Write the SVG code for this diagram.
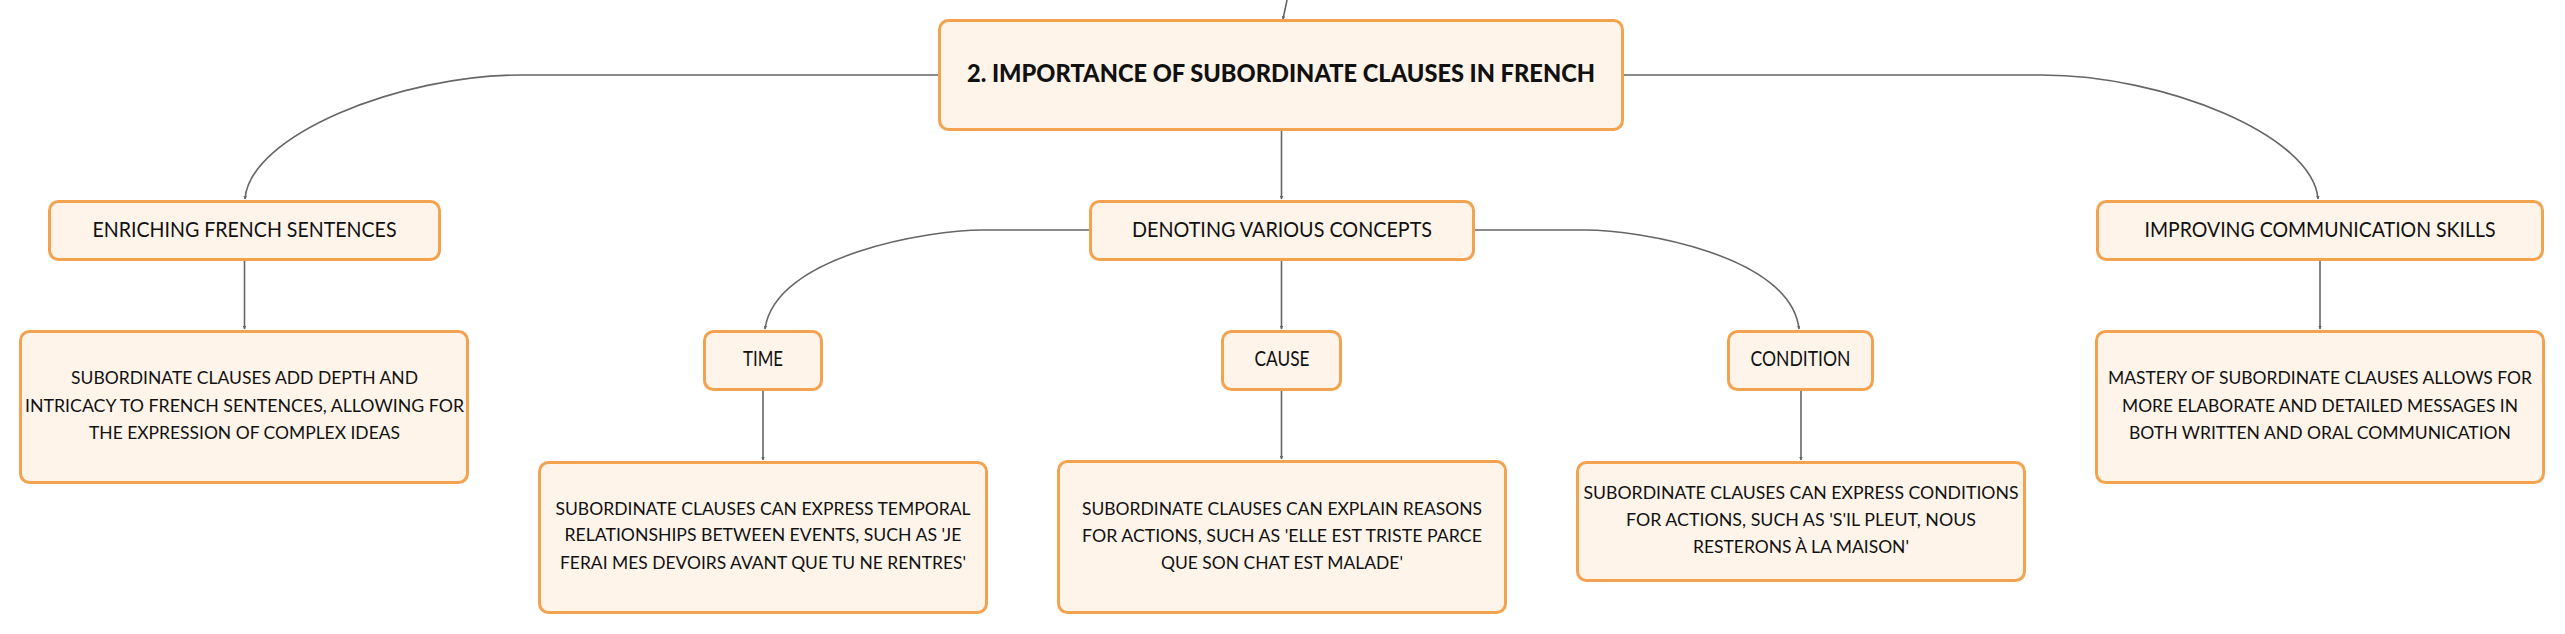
<svg xmlns="http://www.w3.org/2000/svg" width="2565" height="634" viewBox="0 0 2565 634">
<style>
.box{fill:#FEF4EA;stroke:#F3A24F;stroke-width:3}
.t{font-family:Lato,"Noto Sans","Liberation Sans",sans-serif;fill:#111;text-anchor:middle}
.root{font-size:25px;font-weight:900}
.lbl{font-size:20.5px}
.det{font-size:16.8px}
.c{fill:none;stroke:#666;stroke-width:1.6}
</style>
<defs>
<marker id="ah" viewBox="0 0 6 6" refX="5" refY="3" markerWidth="3.5" markerHeight="3.5" markerUnits="userSpaceOnUse" orient="auto">
<path d="M0,0 L6,3 L0,6 z" fill="#666"/>
</marker>
</defs>
<rect width="2565" height="634" fill="#fff"/>
<g id="connectors">
<path class="c" d="M1287,0 L1283,19" marker-end="url(#ah)"/>
<path class="c" d="M938,75 L521,75 C400,75 250,135 245,199" marker-end="url(#ah)"/>
<path class="c" d="M1624,75 L2042,75 C2163,75 2313,135 2318,199" marker-end="url(#ah)"/>
<path class="c" d="M1281.5,131 L1281.5,199" marker-end="url(#ah)"/>
<path class="c" d="M1089,230 L983,230 C930,230 775,255 765,329" marker-end="url(#ah)"/>
<path class="c" d="M1281.5,261 L1281.5,329" marker-end="url(#ah)"/>
<path class="c" d="M1475,230 L1585,230 C1638,230 1791,255 1799,329" marker-end="url(#ah)"/>
<path class="c" d="M244.5,261 L244.5,329" marker-end="url(#ah)"/>
<path class="c" d="M763,391 L763,460" marker-end="url(#ah)"/>
<path class="c" d="M1281.5,391 L1281.5,459" marker-end="url(#ah)"/>
<path class="c" d="M1801,391 L1801,460" marker-end="url(#ah)"/>
<path class="c" d="M2320,261 L2320,329" marker-end="url(#ah)"/>
</g>
<g id="root">
<rect class="box" x="939.5" y="20.5" width="683" height="109" rx="9"/>
<text class="t root" x="1281" y="82" textLength="628" lengthAdjust="spacingAndGlyphs">2. IMPORTANCE OF SUBORDINATE CLAUSES IN FRENCH</text>
</g>
<g id="enriching">
<rect class="box" x="49.5" y="201.5" width="390" height="58" rx="9"/>
<text class="t lbl" x="244.5" y="237" textLength="304" lengthAdjust="spacingAndGlyphs">ENRICHING FRENCH SENTENCES</text>
</g>
<g id="denoting">
<rect class="box" x="1090.5" y="201.5" width="383" height="58" rx="9"/>
<text class="t lbl" x="1282" y="237" textLength="300" lengthAdjust="spacingAndGlyphs">DENOTING VARIOUS CONCEPTS</text>
</g>
<g id="improving">
<rect class="box" x="2097.5" y="201.5" width="445" height="58" rx="9"/>
<text class="t lbl" x="2320" y="237" textLength="351" lengthAdjust="spacingAndGlyphs">IMPROVING COMMUNICATION SKILLS</text>
</g>
<g id="time">
<rect class="box" x="704.5" y="331.5" width="117" height="58" rx="9"/>
<text class="t lbl" x="763" y="366" textLength="40" lengthAdjust="spacingAndGlyphs">TIME</text>
</g>
<g id="cause">
<rect class="box" x="1222.5" y="331.5" width="118" height="58" rx="9"/>
<text class="t lbl" x="1282" y="366" textLength="55" lengthAdjust="spacingAndGlyphs">CAUSE</text>
</g>
<g id="condition">
<rect class="box" x="1728.5" y="331.5" width="144" height="58" rx="9"/>
<text class="t lbl" x="1800.5" y="366" textLength="100" lengthAdjust="spacingAndGlyphs">CONDITION</text>
</g>
<g id="enriching-detail">
<rect class="box" x="20.5" y="331.5" width="447" height="151" rx="9"/>
<text class="t det" x="244.5" y="384" textLength="347" lengthAdjust="spacingAndGlyphs">SUBORDINATE CLAUSES ADD DEPTH AND</text>
<text class="t det" x="244.5" y="411.5" textLength="439" lengthAdjust="spacingAndGlyphs">INTRICACY TO FRENCH SENTENCES, ALLOWING FOR</text>
<text class="t det" x="244.5" y="438.5" textLength="311" lengthAdjust="spacingAndGlyphs">THE EXPRESSION OF COMPLEX IDEAS</text>
</g>
<g id="time-detail">
<rect class="box" x="539.5" y="462.5" width="447" height="150" rx="9"/>
<text class="t det" x="763" y="514.5" textLength="415" lengthAdjust="spacingAndGlyphs">SUBORDINATE CLAUSES CAN EXPRESS TEMPORAL</text>
<text class="t det" x="763" y="541" textLength="397" lengthAdjust="spacingAndGlyphs">RELATIONSHIPS BETWEEN EVENTS, SUCH AS 'JE</text>
<text class="t det" x="763" y="568.5" textLength="406" lengthAdjust="spacingAndGlyphs">FERAI MES DEVOIRS AVANT QUE TU NE RENTRES'</text>
</g>
<g id="cause-detail">
<rect class="box" x="1058.5" y="461.5" width="447" height="151" rx="9"/>
<text class="t det" x="1282" y="515" textLength="400" lengthAdjust="spacingAndGlyphs">SUBORDINATE CLAUSES CAN EXPLAIN REASONS</text>
<text class="t det" x="1282" y="542" textLength="400" lengthAdjust="spacingAndGlyphs">FOR ACTIONS, SUCH AS 'ELLE EST TRISTE PARCE</text>
<text class="t det" x="1282" y="569" textLength="242" lengthAdjust="spacingAndGlyphs">QUE SON CHAT EST MALADE'</text>
</g>
<g id="condition-detail">
<rect class="box" x="1577.5" y="462.5" width="447" height="118" rx="9"/>
<text class="t det" x="1801" y="499" textLength="435" lengthAdjust="spacingAndGlyphs">SUBORDINATE CLAUSES CAN EXPRESS CONDITIONS</text>
<text class="t det" x="1801" y="526" textLength="350" lengthAdjust="spacingAndGlyphs">FOR ACTIONS, SUCH AS 'S'IL PLEUT, NOUS</text>
<text class="t det" x="1801" y="553" textLength="216" lengthAdjust="spacingAndGlyphs">RESTERONS À LA MAISON'</text>
</g>
<g id="improving-detail">
<rect class="box" x="2096.5" y="331.5" width="447" height="151" rx="9"/>
<text class="t det" x="2320" y="384" textLength="424" lengthAdjust="spacingAndGlyphs">MASTERY OF SUBORDINATE CLAUSES ALLOWS FOR</text>
<text class="t det" x="2320" y="411.5" textLength="396" lengthAdjust="spacingAndGlyphs">MORE ELABORATE AND DETAILED MESSAGES IN</text>
<text class="t det" x="2320" y="438.5" textLength="382" lengthAdjust="spacingAndGlyphs">BOTH WRITTEN AND ORAL COMMUNICATION</text>
</g>
</svg>
